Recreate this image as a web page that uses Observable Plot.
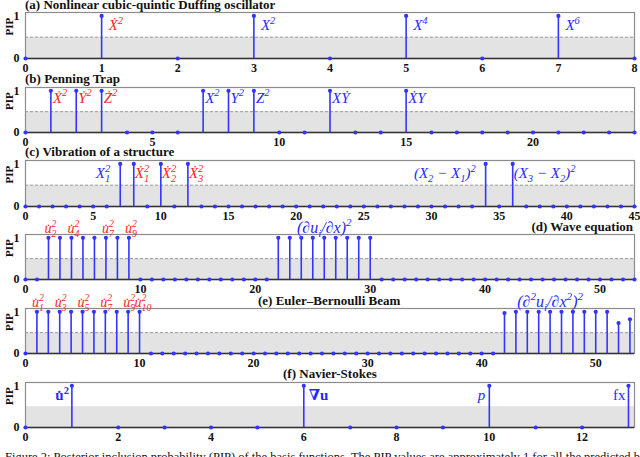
<!DOCTYPE html>
<html><head><meta charset="utf-8">
<script src="https://cdn.jsdelivr.net/npm/d3@7"></script>
<script src="https://cdn.jsdelivr.net/npm/@observablehq/plot@0.6"></script>
<style>
body{margin:0;background:#fff;}
#fig{position:relative;width:640px;height:457px;overflow:hidden;font-family:"Liberation Serif","DejaVu Serif",serif;}
.ttl{position:absolute;font-weight:bold;font-size:13px;line-height:14px;white-space:nowrap;color:#111;}
.pnl{position:absolute;left:0;}
.pnl svg{overflow:visible;}
#cap{position:absolute;left:5px;top:450px;font-size:12.5px;line-height:14px;white-space:nowrap;color:#111;}
</style></head><body><div id="fig"></div>
<script>
// ---------------- data ----------------
const pipA = [0,1,0,1,0,1,0,1,0];
const pipB = [0,1,1,1,0,0,0,1,1,1,0,0,1,0,0,1,0,0,0,0,0,0,0,0,0];
const pipC = [0,0,0,0,0,0,0,1,1,0,1,0,1,0,0,0,0,0,0,0,0,0,0,0,0,0,0,0,0,0,0,0,0,0,1,0,1,0,0,0,0,0,0,0,0,0];
const pipD = [0,0,1,1,1,1,1,1,1,1,0,0,0,0,0,0,0,0,0,0,0,0,1,1,1,1,1,1,1,1,1,0,0,0,0,0,0,0,0,0,0,0,0,0,0,0,0,0,0,0,0,0,0,0];
const pipE = [0,1,1,1,1,1,1,1,1,1,1,0,0,0,0,0,0,0,0,0,0,0,0,0,0,0,0,0,0,0,0,0,0,0,0,0,0,0,0,0,0,0,0.97,1,1,1,1,1,1,1,1,1,0.73,0.82];
const pipF = [0,1,0,0,0,0,1,0,0,0,1,0,0,1];

const ticksA = [0,1,2,3,4,5,6,7,8];
const ticksB = [0,5,10,15,20];
const ticksC = [0,5,10,15,20,25,30,35,40,45];
const ticksD = [0,10,20,30,40,50];
const ticksE = [0,10,20,30,40,50];
const ticksF = [0,2,4,6,8,10,12];

const titles = ["(a) Nonlinear cubic-quintic Duffing oscillator","(b) Penning Trap","(c) Vibration of a structure","(d) Wave equation","(e) Euler\u2013Bernoulli Beam","(f) Navier-Stokes"];

// label markup: _x subscript, ^x superscript (stacked when consecutive)
const labA_idx = [1,3,5,7];
const labA_txt = ["\u1E8A^2","X^2","X^4","X^6"];
const labA_red = [1,0,0,0];
const labB_idx = [1,2,3,7,8,9,12,15];
const labB_txt = ["\u1E8A^2","\u1E8E^2","\u017B^2","X^2","Y^2","Z^2","X\u1E8E","\u1E8AY"];
const labB_red = [1,1,1,0,0,0,0,0];
const labC_idx = [7,8,10,12,34,36];
const labC_txt = ["X_1^2","\u1E8A_1^2","\u1E8A_2^2","\u1E8A_3^2","(X_2 \u2212 X_1)^2","(X_3 \u2212 X_2)^2"];
const labC_red = [0,1,1,1,0,0];
const labD_idx = [2,4,7,9];
const labD_txt = ["u\u0307_2^2","u\u0307_4^2","u\u0307_7^2","u\u0307_9^2"];
const labD_red = [1,1,1,1];
const grpD_idx = [26];
const grpD_txt = ["(\u2202u_i/\u2202x)^2"];
const labE_idx = [1,3,5,7,9,10];
const labE_txt = ["u\u0307_1^2","u\u0307_3^2","u\u0307_5^2","u\u0307_7^2","u\u0307_9^2","u\u0307_{10}^2"];
const labE_red = [1,1,1,1,1,1];
const grpE_idx = [46];
const grpE_txt = ["(\u2202^2u_i/\u2202x^2)^2"];
const labF_idx = [1,6,10,13];
const labF_txt = ["u\u0307^2","\u2207u","p","fx"];
const labF_red = [0,0,0,0];

const threshold = 0.5;
const caption = "Figure 2: Posterior inclusion probability (PIP) of the basis functions. The PIP values are approximately 1 for all the predicted basis functions";

// ---------------- drawing ----------------
const BLUE = "#3434ff", RED = "#ff2424", LBLUE = "#2828ff";
const FONT = "Liberation Serif, DejaVu Serif, serif";
const fig = document.getElementById("fig");
const NS = "http://www.w3.org/2000/svg";

function labs(idx, txt, red){ return idx.map((i,k)=>({i, t: txt[k], red: red[k]})); }

function mathify(root){
  root.querySelectorAll("text").forEach(t => {
    const s = t.textContent;
    if (!/[_^]/.test(s)) return;
    const fs = parseFloat(getComputedStyle(t).fontSize) || 14;
    const tokens = [];
    let i = 0;
    while (i < s.length) {
      const c = s[i];
      if (c === "_" || c === "^") {
        let arg;
        if (s[i+1] === "{") { const j = s.indexOf("}", i); arg = s.slice(i+2, j); i = j+1; }
        else { arg = s[i+1]; i += 2; }
        tokens.push({type: c === "_" ? "sub" : "sup", s: arg});
      } else {
        let j = i; while (j < s.length && s[j] !== "_" && s[j] !== "^") j++;
        tokens.push({type:"n", s: s.slice(i, j)}); i = j;
      }
    }
    t.textContent = "";
    let shift = 0, pendingDx = 0, prev = null;
    tokens.forEach(tok => {
      const ts = document.createElementNS(NS, "tspan");
      ts.textContent = tok.s;
      const target = tok.type === "sup" ? -0.42*fs : tok.type === "sub" ? 0.28*fs : 0;
      if (target - shift !== 0) ts.setAttribute("dy", target - shift);
      shift = target;
      if (tok.type !== "n") ts.setAttribute("font-size", (0.7*fs).toFixed(2));
      let dx = pendingDx; pendingDx = 0;
      const stacked = tok.type === "sup" && prev && prev.type === "sub";
      if (stacked) dx -= prev.len;
      if (dx) ts.setAttribute("dx", dx);
      t.appendChild(ts);
      const len = ts.getComputedTextLength();
      if (stacked) pendingDx = Math.max(0, prev.len - len);
      prev = {type: tok.type, len};
    });
  });
}

function panel(o){
  const data = o.values.map((v,i)=>({i, v}));
  const xMax = o.xMax;
  const mt = o.mt, mb = 18;
  const yMax = 1.08;
  const band = [{x1: 0, x2: xMax, y1: 0, y2: threshold}];
  const marks = [
    Plot.rect(band, {x1:"x1", x2:"x2", y1:"y1", y2:"y2", fill:"#e3e3e3"}),
    o.dash === false ? null : Plot.ruleY([threshold], {stroke:"#8a8a8a", strokeWidth:0.8, strokeDasharray:"3,2"}),
    Plot.frame({stroke:"#8c8c8c", strokeWidth:1.2}),
    Plot.ruleY([0], {stroke:"#333", strokeWidth:1.3}),
    Plot.ruleX(data.filter(d=>d.v>0), {x:"i", y1:0, y2:"v", stroke:BLUE, strokeWidth:1.6}),
    Plot.dot(data, {x:"i", y:"v", r:2.1, fill:BLUE, stroke:null}),
    Plot.text(["PIP"], {frameAnchor:"left", rotate:-90, dx:-16, fontWeight:"bold", fontSize:11, fill:"#111"}),
    ...o.labelMarks
  ];
  const p = Plot.plot({
    width: 640, height: mt + o.frameH + mb,
    marginLeft: 25, marginRight: 6, marginTop: mt, marginBottom: mb,
    x: {domain:[0,xMax], ticks:o.ticks, tickSize:0, tickPadding:5, label:null, tickFormat:d=>String(d)},
    y: {domain:[0,yMax], ticks:[0,1], tickSize:0, tickPadding:6, label:null, tickFormat:d=>String(d)},
    style: {fontFamily: FONT, fontSize:"12px", fontWeight:"bold", color:"#111", background:"transparent", overflow:"visible"},
    marks: marks.filter(Boolean)
  });
  const div = document.createElement("div");
  div.className = "pnl";
  div.style.top = (o.frameTop - mt) + "px";
  div.appendChild(p);
  fig.appendChild(div);
  mathify(p);
}

function title(text, style){
  const d = document.createElement("div");
  d.className = "ttl";
  d.textContent = text;
  Object.assign(d.style, style);
  fig.appendChild(d);
}

const col = d => d.red ? RED : LBLUE;
const txtOpts = (extra) => Object.assign({x:"i", text:"t", fill:col, fontSize:15, fontStyle:"italic", fontWeight:"normal", fontFamily:FONT}, extra);

// (a)
title(titles[0], {left:"25px", top:"-2px"});
panel({values:pipA, xMax:8, ticks:ticksA, frameTop:12, frameH:46, mt:4,
  labelMarks:[Plot.text(labs(labA_idx,labA_txt,labA_red), txtOpts({y:0.78, textAnchor:"start", dx:7}))]});

// (b)
title(titles[1], {left:"25px", top:"72px"});
panel({values:pipB, xMax:24, ticks:ticksB, frameTop:87, frameH:45, mt:4,
  labelMarks:[Plot.text(labs(labB_idx,labB_txt,labB_red), txtOpts({y:0.83, textAnchor:"start", dx:2}))]});

// (c)
const leftC = [7,34];
const lc = labs(labC_idx,labC_txt,labC_red);
title(titles[2], {left:"25px", top:"145px"});
panel({values:pipC, xMax:45, ticks:ticksC, frameTop:160, frameH:46, mt:4,
  labelMarks:[
    Plot.text(lc.filter(d=>leftC.includes(d.i)), txtOpts({y:0.78, textAnchor:"end", dx:-10})),
    Plot.text(lc.filter(d=>!leftC.includes(d.i)), txtOpts({y:0.78, textAnchor:"start", dx:1}))
  ]});

// (d)
title(titles[3], {right:"7px", top:"220px"});
panel({values:pipD, xMax:53, ticks:ticksD, frameTop:234, frameH:45, mt:20,
  labelMarks:[
    Plot.text(labs(labD_idx,labD_txt,labD_red), txtOpts({y:1.08, dy:-6, textAnchor:"start", dx:-4, fontSize:14})),
    Plot.text(labs(grpD_idx,grpD_txt,[0]), txtOpts({y:1.08, dy:-7, textAnchor:"middle", fontSize:16}))
  ]});

// (e)
title(titles[4], {left:"258px", top:"294px"});
panel({values:pipE, xMax:53.4, ticks:ticksE, frameTop:308, frameH:45, mt:20,
  labelMarks:[
    Plot.text(labs(labE_idx,labE_txt,labE_red), txtOpts({y:1.08, dy:-6, textAnchor:"start", dx:-5, fontSize:14})),
    Plot.text(labs(grpE_idx,grpE_txt,[0]), txtOpts({y:1.08, dy:-7, textAnchor:"middle", fontSize:16}))
  ]});

// (f)
const lf = labs(labF_idx,labF_txt,labF_red);
title(titles[5], {left:"283px", top:"367px"});
panel({values:pipF, xMax:13.13, ticks:ticksF, frameTop:382, frameH:45, mt:4, dash:false,
  labelMarks:[
    Plot.text(lf.filter(d=>d.i===1), txtOpts({y:0.77, textAnchor:"end", dx:-3, fontStyle:"normal", fontWeight:"bold"})),
    Plot.text(lf.filter(d=>d.i===6), txtOpts({y:0.77, textAnchor:"start", dx:5, fontStyle:"normal", fontWeight:"bold"})),
    Plot.text(lf.filter(d=>d.i===10), txtOpts({y:0.77, textAnchor:"end", dx:-4})),
    Plot.text(lf.filter(d=>d.i===13), txtOpts({y:0.77, textAnchor:"end", dx:-3, fontStyle:"normal"}))
  ]});

const cap = document.createElement("div");
cap.id = "cap";
cap.textContent = caption;
fig.appendChild(cap);
</script>
</body></html>
